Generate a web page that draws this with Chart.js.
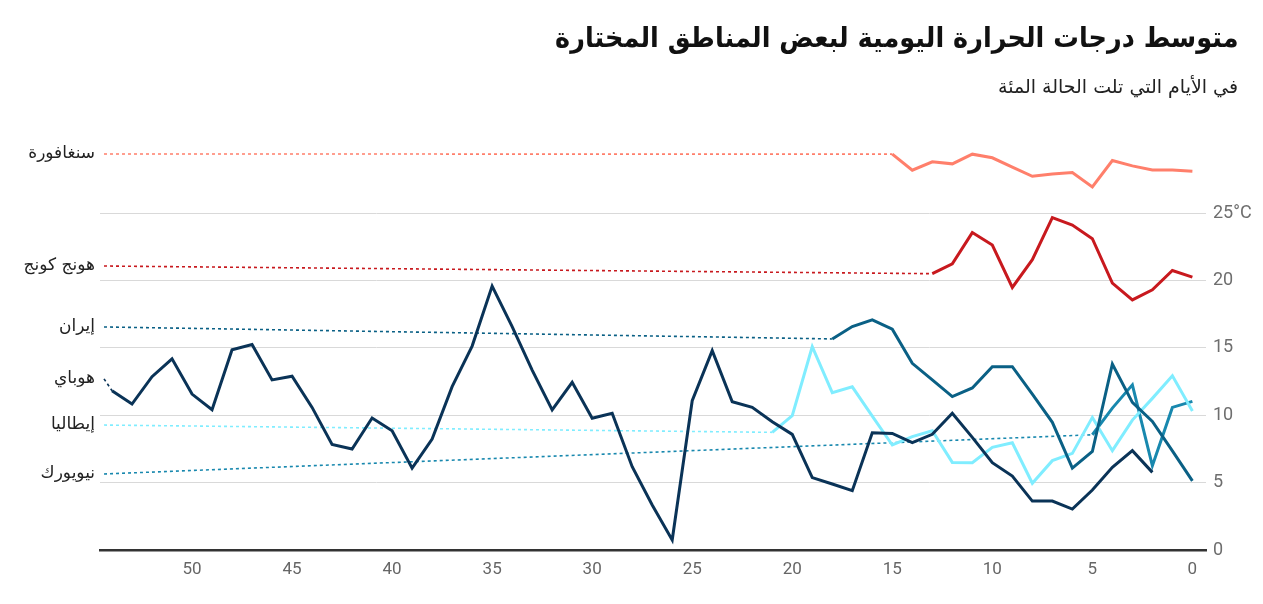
<!DOCTYPE html>
<html lang="ar">
<head>
<meta charset="utf-8">
<script src="https://cdn.jsdelivr.net/npm/chart.js@4"></script>
<style>
  body { margin: 0; background: #fff; }
  #wrap { position: relative; width: 1263px; height: 604px; }
  #chart { position: absolute; left: 0; top: 0; }
  .title { position: absolute; right: 25px; direction: rtl; color: #111; font-family: "DejaVu Sans", sans-serif; white-space: nowrap; transform-origin: right center; }
  #title { top: 21px; font-size: 28px; font-weight: bold; transform: scaleX(0.913); }
  #subtitle { top: 75px; font-size: 19px; color: #222; }
</style>
</head>
<body>
<div id="wrap">
  <canvas id="chart" width="1263" height="604"></canvas>
  <div id="title" class="title">متوسط درجات الحرارة اليومية لبعض المناطق المختارة</div>
  <div id="subtitle" class="title">في الأيام التي تلت الحالة المئة</div>
</div>
<script>
// days since the 100th case (x) and average daily temperature in °C (y)
const dayTicks = [0, 5, 10, 15, 20, 25, 30, 35, 40, 45, 50];
const tempTicks = [0, 5, 10, 15, 20, 25];

const regions = ["سنغافورة", "هونج كونج", "إيران", "هوباي", "إيطاليا", "نيويورك"];
const labelTemps = [29.38, 21.07, 16.55, 12.7, 9.27, 5.64];
const labelDay = 54.4;
const firstDays = [15, 13, 18, 54, 21, 5];

const singapore = [29.37, 28.18, 28.8, 28.65, 29.37, 29.1, 28.4, 27.73, 27.9, 28.0, 26.94, 28.9, 28.5, 28.2, 28.2, 28.1];
const hongKong = [20.5, 21.24, 23.55, 22.63, 19.48, 21.54, 24.66, 24.11, 23.1, 19.8, 18.56, 19.3, 20.74, 20.25];
const iran = [15.66, 16.58, 17.08, 16.38, 13.85, 12.62, 11.38, 12.02, 13.6, 13.6, 11.57, 9.47, 6.07, 7.31, 13.8, 10.95, 9.54, 7.36, 5.13];
const hubei = [11.82, 10.83, 12.86, 14.18, 11.57, 10.41, 14.85, 15.24, 12.62, 12.89, 10.58, 7.83, 7.49, 9.79, 8.85, 6.07,
    8.23, 12.12, 15.13, 19.58, 16.57, 13.35, 10.39, 12.44, 9.77, 10.14, 6.18, 3.34, 0.74, 11.08, 14.79, 11.0, 10.58, 9.52,
    8.58, 5.37, 4.9, 4.4, 8.7, 8.65, 7.96, 8.58, 10.14, 8.36, 6.48, 5.49, 3.63, 3.63, 3.04, 4.45, 6.13, 7.37, 5.76];
const italy = [8.73, 9.96, 15.08, 11.67, 12.11, 9.94, 7.79, 8.41, 8.85, 6.5, 6.48, 7.62, 7.96, 4.95, 6.63, 7.17, 9.84, 7.37, 9.64, 11.25, 12.93, 10.31];
const newYork = [8.55, 10.53, 12.25, 6.25, 10.58, 11.03];

const seriesValues = [singapore, hongKong, iran, hubei, italy, newYork];
const colors = ["#ff7f6b", "#c8191e", "#0a6085", "#0a3357", "#80edff", "#1888ae"];

document.addEventListener("DOMContentLoaded", () => {
    const ctx = document.getElementById("chart").getContext("2d");

    const datasets = [];
    // solid lines first so they sit on top
    seriesValues.forEach((values, i) => {
        datasets.push({
            label: regions[i],
            data: values.map((v, k) => ({ x: firstDays[i] - k, y: v })),
            borderColor: colors[i],
            borderWidth: 3,
            pointRadius: 0,
            tension: 0,
            order: 1
        });
    });
    // dotted connectors from the name to the first value
    seriesValues.forEach((values, i) => {
        datasets.push({
            label: regions[i] + "-link",
            data: [{ x: labelDay, y: labelTemps[i] }, { x: firstDays[i], y: values[0] }],
            borderColor: colors[i],
            borderWidth: 1.6,
            borderDash: [3, 3],
            pointRadius: 0,
            order: 5
        });
    });

    const nameLabels = {
        id: "nameLabels",
        afterDraw(chart) {
            const c = chart.ctx;
            const yScale = chart.scales.y;
            c.save();
            c.font = "17px 'DejaVu Sans'";
            c.fillStyle = "#222";
            c.textAlign = "right";
            c.textBaseline = "middle";
            regions.forEach((name, i) => {
                c.fillText(name, chart.chartArea.left - 5, yScale.getPixelForValue(labelTemps[i]));
            });
            c.restore();
        }
    };

    new Chart(ctx, {
        type: "line",
        data: { datasets },
        options: {
            responsive: false,
            animation: false,
            layout: { padding: { left: 100, top: 140, right: 0, bottom: 0 } },
            plugins: {
                legend: { display: false },
                tooltip: { enabled: false }
            },
            scales: {
                x: {
                    type: "linear",
                    reverse: true,
                    min: -0.68,
                    max: 54.6,
                    afterBuildTicks: (scale) => { scale.ticks = dayTicks.map(v => ({ value: v })); },
                    afterFit: (scale) => { scale.height = 54; },
                    grid: { display: false, drawTicks: false },
                    border: { display: true, color: "#333", width: 2.5 },
                    ticks: { padding: 10, color: "#666", font: { family: "Roboto", size: 17 } }
                },
                y: {
                    position: "right",
                    min: 0,
                    max: 30.42,
                    afterBuildTicks: (scale) => { scale.ticks = tempTicks.map(v => ({ value: v })); },
                    afterFit: (scale) => { scale.width = 57; },
                    grid: { color: "#d9d9d9", lineWidth: 1, drawTicks: false },
                    border: { display: false },
                    ticks: {
                        padding: 7,
                        color: "#6e6e6e",
                        font: { family: "Roboto", size: 18 },
                        callback: (v) => v === 25 ? "25°C" : v
                    }
                }
            }
        },
        plugins: [nameLabels]
    });
});
</script>
</body>
</html>
